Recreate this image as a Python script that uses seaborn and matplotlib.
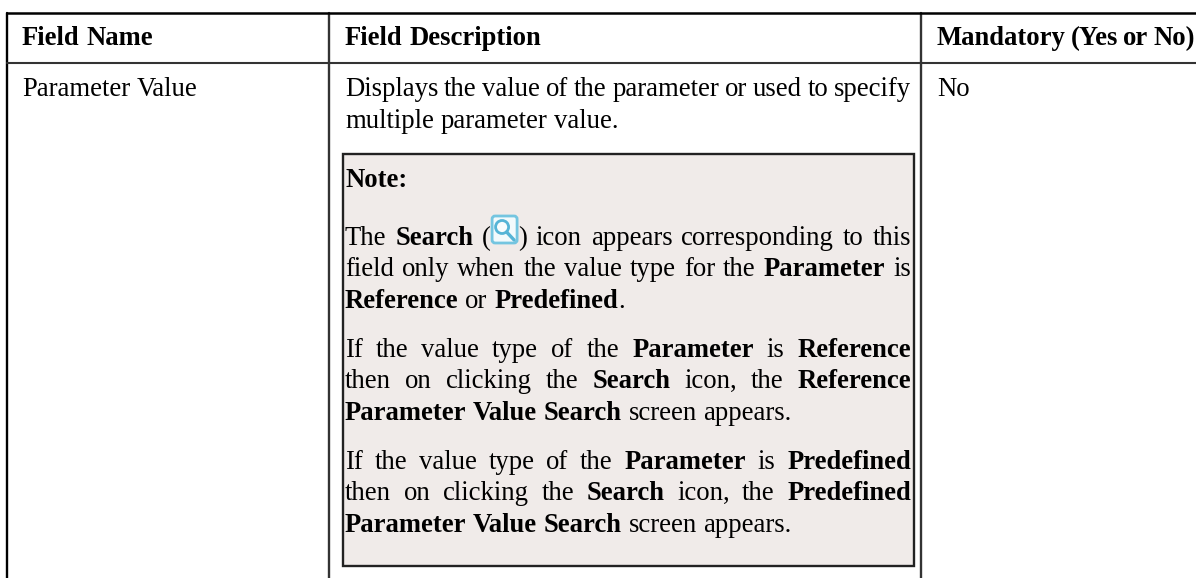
import re

import matplotlib
matplotlib.use("Agg")
import matplotlib.pyplot as plt
from matplotlib.patches import Circle, FancyBboxPatch, Rectangle
import pandas as pd
import seaborn as sns

# --------------------------------------------------------------
# Table content (**word** = bold, @ = search icon)
# --------------------------------------------------------------
headers = ["Field Name", "Field Description", "Mandatory (Yes or No)"]
field_name = "Parameter Value"
mandatory = "No"

description_lines = [
    "Displays the value of the parameter or used to specify",
    "multiple parameter value.",
]
description_justified = [True, False]
description_baselines = [96, 128]

note_lines = [
    "**Note:**",
    "The **Search** (@) icon appears corresponding to this",
    "field only when the value type for the **Parameter** is",
    "**Reference** or **Predefined**.",
    "If the value type of the **Parameter** is **Reference**",
    "then on clicking the **Search** icon, the **Reference**",
    "**Parameter Value Search** screen appears.",
    "If the value type of the **Parameter** is **Predefined**",
    "then on clicking the **Search** icon, the **Predefined**",
    "**Parameter Value Search** screen appears.",
]
note_justified = [False, True, True, False, True, True, False, True, True, False]
note_baselines = [187, 245, 276, 308, 357, 388, 420, 469, 500, 532]

# table rules, in image pixels
col_edges = [7, 329, 921]
col_colors = ["black", "#333333", "#333333"]
top_edge = 13
header_edge = 63
note_box = (343, 154, 914, 566)

W, H = 1196, 578
FONT_SIZE = 19.2

sns.set_theme(style="white")
plt.rcParams["font.family"] = ["Liberation Serif", "DejaVu Serif"]
plt.rcParams["text.hinting"] = "no_autohint"

fig, ax = plt.subplots(figsize=(W / 100, H / 100), dpi=100)
ax.set_position([0, 0, 1, 1])

# --------------------------------------------------------------
# Rules
# --------------------------------------------------------------
for x, c in zip(col_edges, col_colors):
    rule = pd.DataFrame({"x": [x, x], "y": [top_edge, H]})
    sns.lineplot(data=rule, x="x", y="y", estimator=None, sort=False, color=c, linewidth=1.7, ax=ax)

top_rule = pd.DataFrame({"x": [col_edges[0], W], "y": [top_edge, top_edge]})
head_rule = pd.DataFrame({"x": [col_edges[0], W], "y": [header_edge, header_edge]})
sns.lineplot(data=top_rule, x="x", y="y", estimator=None, sort=False, color="black", linewidth=1.8, ax=ax)
sns.lineplot(data=head_rule, x="x", y="y", estimator=None, sort=False, color="#333333", linewidth=1.5, ax=ax)

ax.set_xlim(0, W)
ax.set_ylim(H, 0)
ax.axis("off")

x0, y0, x1, y1 = note_box
ax.add_patch(Rectangle((x0, y0), x1 - x0, y1 - y0, facecolor="#f0ebe9",
                       edgecolor="#222222", linewidth=1.7, zorder=2))

# --------------------------------------------------------------
# Text helpers - the source justifies lines, so place word by word
# --------------------------------------------------------------
renderer = fig.canvas.get_renderer()
ICON_W = 27


def put(x, y, s, bold=False):
    return ax.text(x, y, s, fontsize=FONT_SIZE, color="black", va="baseline", ha="left",
                   fontweight="bold" if bold else "normal", zorder=3)


def run_width(s, bold):
    # width with a trailing marker so side bearings count
    t = put(0, 0, s + "|", bold)
    m = put(0, 0, "|", bold)
    w = t.get_window_extent(renderer).width - m.get_window_extent(renderer).width
    t.remove()
    m.remove()
    return w


def parse_word(word):
    runs = []
    for part in re.split(r"(\*\*.+?\*\*|@)", word):
        if not part:
            continue
        if part.startswith("**"):
            runs.append((part[2:-2], True))
        else:
            runs.append((part, False))
    return runs


def word_width(runs):
    return sum(ICON_W if s == "@" else run_width(s, b) for s, b in runs)


def draw_icon(x, baseline):
    top = baseline - 30
    ax.add_patch(FancyBboxPatch((x + 1, top + 1), ICON_W - 2, 27, boxstyle="round,pad=0,rounding_size=3",
                                facecolor="#f2fafc", edgecolor="#74c5e0", linewidth=2.0, zorder=3))
    ax.add_patch(Circle((x + 11, top + 12), 6.5, facecolor="#f7fcfd", edgecolor="#55b4d6",
                        linewidth=2.0, zorder=4))
    ax.plot([x + 15.5, x + 23], [top + 17, top + 25], color="#55b4d6", linewidth=2.4, zorder=4)


def draw_line(line, x, y, right=None, justify=False):
    # bold phrases can hold spaces, so split them into single bold words first
    line = re.sub(r"\*\*(.+?)\*\*", lambda m: " ".join(f"**{w}**" for w in m.group(1).split()), line)
    words = [parse_word(w) for w in line.split(" ")]
    widths = [word_width(r) for r in words]
    space = run_width(" ", False)
    if justify and len(words) > 1:
        space = (right - x - sum(widths)) / (len(words) - 1)
    for runs, w in zip(words, widths):
        cx = x
        for s, b in runs:
            if s == "@":
                draw_icon(cx, y)
                cx += ICON_W
            else:
                put(cx, y, s, b)
                cx += run_width(s, b)
        x += w + space


# --------------------------------------------------------------
# Cells
# --------------------------------------------------------------
draw_line(f"**{headers[0]}**", 22, 45)
draw_line(f"**{headers[1]}**", 345, 45)
draw_line(f"**{headers[2]}**", 937, 45, right=1195, justify=True)

draw_line(field_name, 22, description_baselines[0])
draw_line(mandatory, 937, description_baselines[0])
for line, just, y in zip(description_lines, description_justified, description_baselines):
    draw_line(line, 345, y, right=911, justify=just)
for line, just, y in zip(note_lines, note_justified, note_baselines):
    draw_line(line, 345, y, right=911, justify=just)

fig.savefig("out.png", dpi=100)
